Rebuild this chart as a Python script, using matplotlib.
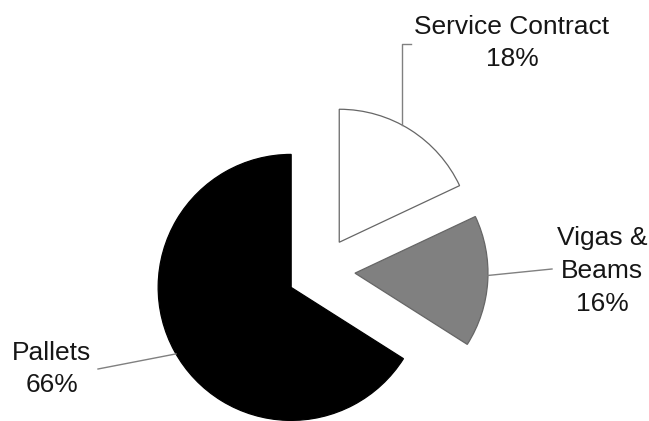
"""Exploded pie chart of revenue share by product line."""

import math

import matplotlib

matplotlib.use("Agg")
import matplotlib.pyplot as plt

labels = ["Pallets", "Vigas &\nBeams", "Service Contract"]
shares = [66, 16, 18]
colors = ["black", "#808080", "white"]

# figure geometry (pixels) used to map the pie onto the canvas
W, H, DPI = 649, 421, 100
CX, CY = 321, 271  # pie centre on screen
SCALE = 133  # pixels per pie radius


def px(x, y):
    """Screen pixel -> data coords (pie radius = 1)."""
    return (x - CX) / SCALE, (CY - y) / SCALE


fig = plt.figure(figsize=(W / DPI, H / DPI), dpi=DPI)
ax = fig.add_axes([0, 0, 1, 1])

wedges, _ = ax.pie(
    shares,
    colors=colors,
    startangle=90,
    counterclock=True,
    explode=[0.256] * 3,
    radius=1.0,
    wedgeprops={"edgecolor": "#666666", "linewidth": 0.9},
)
wedges[0].set_edgecolor("black")

# pie() resets the limits, so map the canvas afterwards
ax.set_xlim(px(0, 0)[0], px(W, 0)[0])
ax.set_ylim(px(0, H)[1], px(0, 0)[1])
ax.set_aspect("equal")
ax.axis("off")

font = {"family": ["Liberation Sans", "DejaVu Sans"], "size": 19, "color": "#161616"}
line_kw = {"color": "#808080", "linewidth": 1.0}


def arc_point(w, angle):
    cx, cy = w.center
    return cx + w.r * math.cos(math.radians(angle)), cy + w.r * math.sin(math.radians(angle))


# label anchors (screen px) and leader-line ends
label_pos = [(52, 369), (602, 271), (512, 43)]
leader_ends = [[(98, 369)], [(552, 269)], [(403, 44), (411, 44)]]
leader_angle = [210, -1, 62]

for w, lab, val, pos, ends, ang in zip(
    wedges, labels, shares, label_pos, leader_ends, leader_angle
):
    x0, y0 = arc_point(w, ang)
    pts = [(x0, y0)]
    if len(ends) > 1:
        # vertical then short horizontal tick
        ex, ey = px(*ends[0])
        pts.append((x0, ey))
        pts.append(px(*ends[1]))
    else:
        pts.append(px(*ends[0]))
    ax.plot([p[0] for p in pts], [p[1] for p in pts], **line_kw)
    tx, ty = px(*pos)
    ax.text(tx, ty, f"{lab}\n{val}%", ha="center", va="center",
            linespacing=1.45, fontdict=font)

fig.savefig("out.png", dpi=DPI)
